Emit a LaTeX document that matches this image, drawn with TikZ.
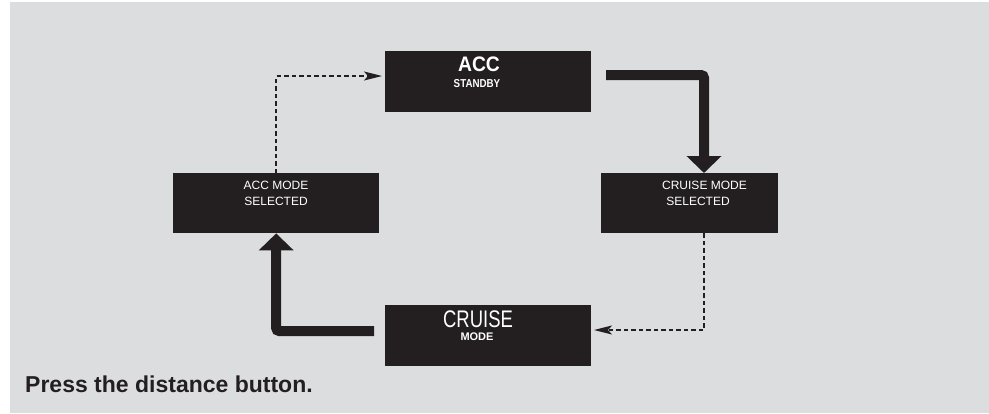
\documentclass[tikz,border=0pt]{standalone}
\usepackage{fontspec}
\usepackage{graphicx}
\setmainfont{Liberation Sans}
\usetikzlibrary{arrows.meta}
\definecolor{bg}{HTML}{DCDDDF}
\definecolor{ink}{HTML}{231F20}
\begin{document}
\begin{tikzpicture}[x=1pt,y=-1pt,
  box/.style={fill=ink, draw=none, inner sep=0pt, anchor=north west, minimum height=61pt},
  lbl/.style={text=white, inner sep=0pt, anchor=base},
  bigarrow/.style={draw=ink, line width=10pt, rounded corners=3pt, -{Triangle[length=17pt,width=34pt]}},
  dotarrow/.style={draw=ink, line width=1.7pt, dash pattern=on 4.5pt off 3pt, -{Stealth[length=18pt,width=9pt,inset=4pt]}}]
\useasboundingbox (0,0) rectangle (989,413);
\fill[bg] (10,2) rectangle (989,413);
% boxes
\node[box, minimum width=206pt] (accst) at (385,51) {};
\node[box, minimum width=177pt, minimum height=60pt] (csel) at (601,173) {};
\node[box, minimum width=206pt, minimum height=60pt] (asel) at (173,173) {};
\node[box, minimum width=206pt] (cru) at (385,305) {};
% labels
\node[lbl, font=\bfseries\fontsize{21}{21}\selectfont] (t-acc) at (479,71) {\scalebox{0.92}[1]{ACC}};
\node[lbl, font=\bfseries\fontsize{11.5}{11.5}\selectfont] (t-stb) at (477,87) {\scalebox{0.85}[1]{STANDBY}};
\node[lbl, font=\fontsize{12}{12}\selectfont] (t-cm) at (704.5,189) {CRUISE MODE};
\node[lbl, font=\fontsize{12}{12}\selectfont] (t-cs) at (698,205) {SELECTED};
\node[lbl, font=\fontsize{12}{12}\selectfont] (t-am) at (276,189) {ACC MODE};
\node[lbl, font=\fontsize{12}{12}\selectfont] (t-as) at (276,205) {SELECTED};
\node[lbl, font=\fontsize{24}{24}\selectfont] (t-cru) at (478,327) {\scalebox{0.77}[1]{CRUISE}};
\node[lbl, font=\bfseries\fontsize{11}{11}\selectfont] (t-mode) at (477,340) {MODE};
\node[inner sep=0pt, anchor=base west, text=ink, font=\bfseries\fontsize{23}{23}\selectfont] (press) at (25,392) {Press the distance button.};
% coordinates
\coordinate (s1) at (606,75);
\coordinate (k1) at (704,75);
\coordinate (s2) at (374,331);
\coordinate (e2) at (594,330);
\coordinate (e1) at (382,76);
% connectors
\draw[bigarrow] (s1) -- (k1) -- (k1 |- csel.north);
\draw[bigarrow] (s2) -| (asel.south);
\draw[dotarrow] (asel.north) |- (e1);
\draw[dotarrow] (csel.south -| k1) |- (e2);
\end{tikzpicture}
\end{document}
